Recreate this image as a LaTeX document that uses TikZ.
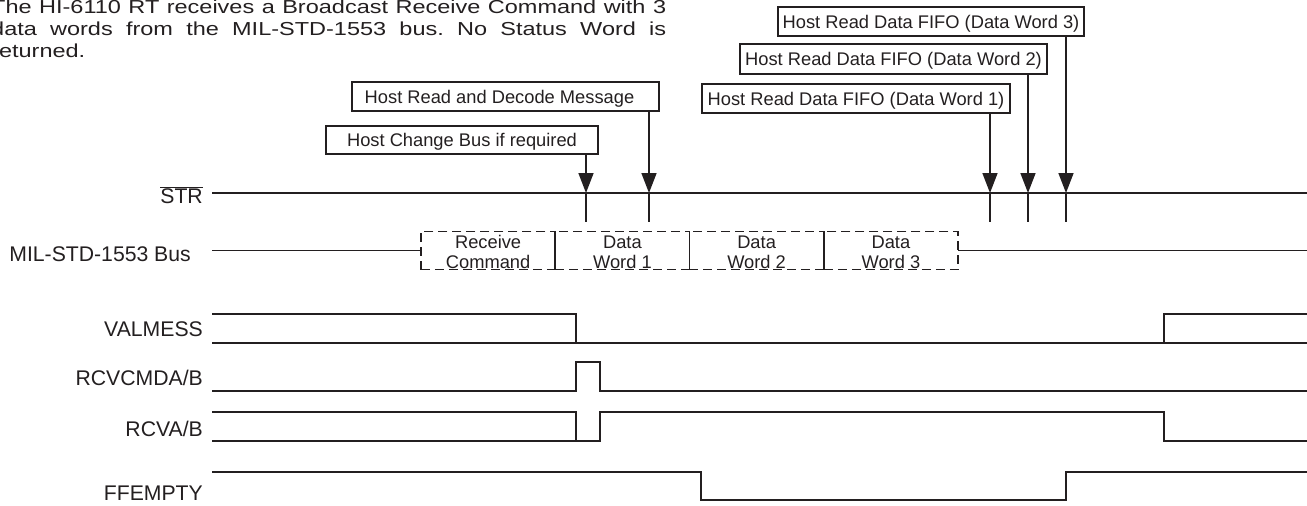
\documentclass[tikz,border=0pt]{standalone}
\usepackage{fontspec}
\setmainfont{Liberation Sans}
\newfontfamily\headfont[FakeStretch=1.25]{Liberation Sans}
\usetikzlibrary{arrows.meta}
\definecolor{ink}{RGB}{35,31,32}
\tikzset{
  sig/.style={line width=1.8pt, draw=ink, line join=miter},
  lbl/.style={anchor=base east, inner sep=0pt, font=\fontsize{21.2}{24}\selectfont, text=ink},
  hbox/.style={draw=ink, line width=1.5pt, inner sep=0pt, outer sep=0pt, text height=13.1pt, text depth=0pt, font=\fontsize{18.3}{22}\selectfont, text=ink},
  arw/.style={line width=1.6pt, draw=ink, -{Triangle[length=20pt,width=15pt]}},
  cell/.style={draw=ink, dash pattern=on 9pt off 5pt, line width=1.6pt, minimum width=134.25pt, minimum height=38pt, inner sep=0pt, outer sep=0pt},
  ctext/.style={anchor=base, inner sep=0pt, font=\fontsize{18.3}{20}\selectfont, text=ink}
}
\begin{document}
\begin{tikzpicture}[x=1pt,y=-1pt]
\useasboundingbox (0,0) rectangle (1307,506);
% heading
\node[anchor=base west, inner sep=0pt, text=ink] (head) at (-9,13)
  {\parbox[t]{675pt}{\frenchspacing\tolerance=10000\hbadness=10000\headfont\fontsize{18.8}{22}\selectfont The HI-6110 RT receives a Broadcast Receive Command with 3\linebreak data words from the MIL-STD-1553 bus. No Status Word is\linebreak returned.}};
% labels
\node[lbl] (lstr) at (203,203) {$\overline{\mbox{STR}}$};
\node[lbl] (lbus) at (191,261) {MIL-STD-1553 Bus};
\node[lbl] (lval) at (203,336) {VALMESS};
\node[lbl] (lrcm) at (203,385) {RCVCMDA/B};
\node[lbl] (lrcv) at (203,436) {RCVA/B};
\node[lbl] (lffe) at (203,500) {FFEMPTY};
% host boxes
\node[hbox, minimum width=306pt, minimum height=29pt] (b3) at (931,21.5) {Host Read Data FIFO (Data Word 3)};
\node[hbox, minimum width=307pt, minimum height=30pt] (b2) at (893.5,59) {Host Read Data FIFO (Data Word 2)};
\node[hbox, minimum width=308pt, minimum height=29pt] (b1) at (856,98.5) {Host Read Data FIFO (Data Word 1)};
\node[hbox, minimum width=307pt, minimum height=29pt] (bd) at (505.5,96.5) {Host Read and Decode Message\hspace*{12pt}};
\node[hbox, minimum width=272pt, minimum height=28pt] (bc) at (462,140) {Host Change Bus if required};
% STR line and strobe points
\coordinate (s0) at (212,193);
\coordinate (s1) at (1307,193);
\coordinate (tc) at (586,193);
\coordinate (td) at (649,193);
\coordinate (t1) at (990,193);
\coordinate (t2) at (1028,193);
\coordinate (t3) at (1066,193);
\draw[sig] (s0) -- (s1);
\foreach \t in {tc,td,t1,t2,t3} \draw[sig] (\t) -- ++(0,29);
\draw[arw] (bc.south -| tc) -- (tc);
\draw[arw] (bd.south -| td) -- (td);
\draw[arw] (b1.south -| t1) -- (t1);
\draw[arw] (b2.south -| t2) -- (t2);
\draw[arw] (b3.south -| t3) -- (t3);
% bus
\node[cell] (c1) at (488.1,250.5) {};
\node[cell] (c2) at (622.4,250.5) {};
\node[cell] (c3) at (756.6,250.5) {};
\node[cell] (c4) at (890.9,250.5) {};
\node[ctext] (x1) at ([yshift=2.5pt]c1.center) {\begin{tabular}[t]{@{}c@{}}Receive\\Command\end{tabular}};
\node[ctext] (x2) at ([yshift=2.5pt]c2.center) {\begin{tabular}[t]{@{}c@{}}Data\\Word 1\end{tabular}};
\node[ctext] (x3) at ([yshift=2.5pt]c3.center) {\begin{tabular}[t]{@{}c@{}}Data\\Word 2\end{tabular}};
\node[ctext] (x4) at ([yshift=2.5pt]c4.center) {\begin{tabular}[t]{@{}c@{}}Data\\Word 3\end{tabular}};
\coordinate (bl) at (212,250.5);
\coordinate (br) at (1307,250.5);
\draw[sig] (bl) -- (c1.west);
\draw[sig] (c4.east) -- (br);
% VALMESS
\draw[sig] (212,314) -- (576,314) -- (576,343);
\draw[sig] (212,343) -- (1307,343);
\draw[sig] (1164,343) -- (1164,314) -- (1307,314);
% RCVCMDA/B
\draw[sig] (212,391) -- (576,391) -- (576,362) -- (600,362) -- (600,391) -- (1307,391);
% RCVA/B
\draw[sig] (212,412) -- (576,412) -- (576,441);
\draw[sig] (212,441) -- (600,441) -- (600,412) -- (1164,412) -- (1164,441) -- (1307,441);
% FFEMPTY
\draw[sig] (212,472) -- (701,472) -- (701,500) -- (1066,500) -- (1066,472) -- (1307,472);
\end{tikzpicture}
\end{document}
